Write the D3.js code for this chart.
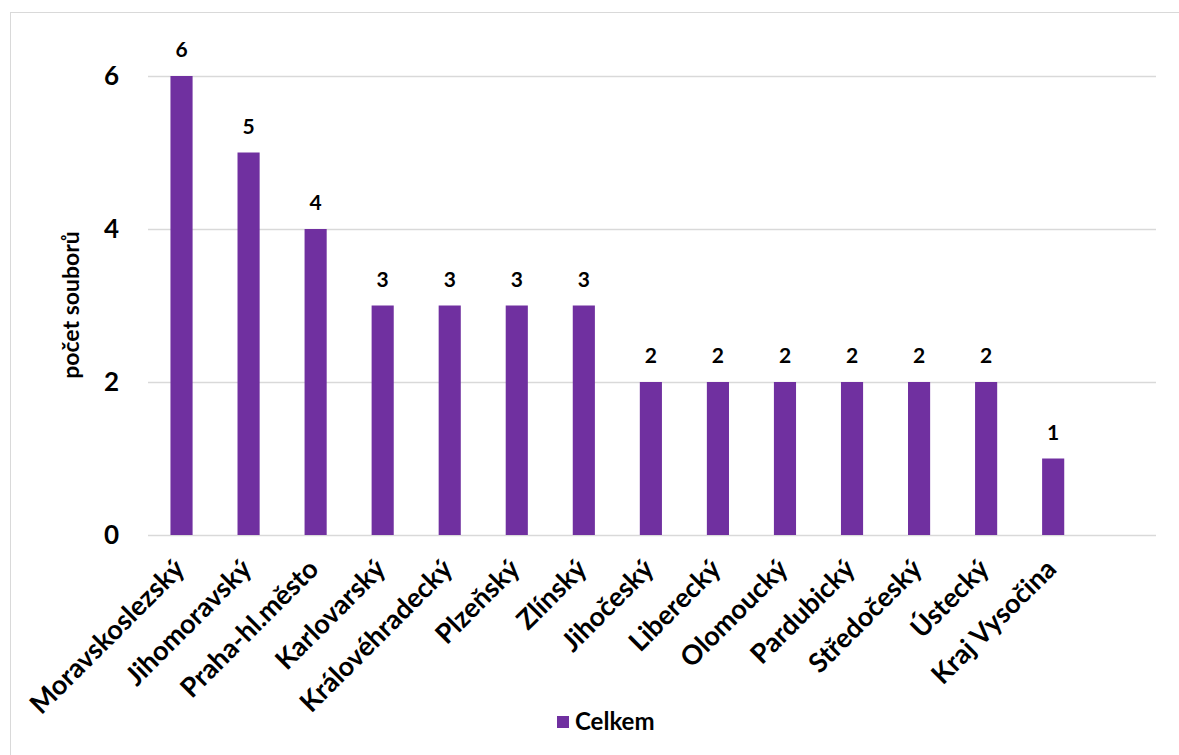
<!DOCTYPE html>
<html>
<head>
<meta charset="utf-8">
<script src="https://cdn.jsdelivr.net/npm/d3@7"></script>
<style>
  html, body { margin: 0; padding: 0; background: #fff; }
  svg { display: block; font-family: Lato, "Open Sans", sans-serif; font-weight: bold; }
</style>
</head>
<body>
<svg id="chart" width="1179" height="755"></svg>
<script>
const categories = ["Moravskoslezský", "Jihomoravský", "Praha-hl.město", "Karlovarský", "Královéhradecký", "Plzeňský", "Zlínský", "Jihočeský", "Liberecký", "Olomoucký", "Pardubický", "Středočeský", "Ústecký", "Kraj Vysočina"];
const values = [6, 5, 4, 3, 3, 3, 3, 2, 2, 2, 2, 2, 2, 1];
const yTicks = [0, 2, 4, 6];
const seriesName = "Celkem";
const yTitle = "počet souborů";

(function () {
const svg = d3.select("#chart");
const color = "#7030A0";

// chart area border
svg.append("rect").attr("x", 10.5).attr("y", 12.5).attr("width", 1300).attr("height", 900)
  .attr("fill", "none").attr("stroke", "#d9d9d9").attr("stroke-width", 1);

const plotLeft = 148, plotRight = 1156, plotTop = 76, plotBottom = 535;
const step = 67.05;
const x = d3.scaleBand().domain(categories).range([plotLeft, plotLeft + step * categories.length]).paddingInner(0.67).paddingOuter(0.335);
const y = d3.scaleLinear().domain([0, 6]).range([plotBottom, plotTop]);

// gridlines
svg.append("g").selectAll("line").data(yTicks).join("line")
  .attr("x1", plotLeft).attr("x2", plotRight)
  .attr("y1", d => Math.round(y(d)) + 0.5).attr("y2", d => Math.round(y(d)) + 0.5)
  .attr("stroke", "#d9d9d9").attr("stroke-width", 1.5);

// y axis tick labels
const yAxis = d3.axisLeft(y).tickValues(yTicks).tickFormat(d3.format("d")).tickSize(0).tickPadding(0);
const gy = svg.append("g").attr("transform", `translate(119,0)`).call(yAxis);
gy.select(".domain").remove();
gy.selectAll("text").attr("font-size", 26).attr("font-family", "Lato, sans-serif").attr("font-weight", "bold").attr("fill", "#000");

// y title
svg.append("text").attr("transform", `translate(79,305) rotate(-90)`)
  .attr("text-anchor", "middle").attr("font-size", 23).attr("fill", "#000").text(yTitle);

// bars
svg.append("g").selectAll("rect").data(values).join("rect")
  .attr("x", (d, i) => x(categories[i]))
  .attr("width", x.bandwidth())
  .attr("y", d => y(d))
  .attr("height", d => y(0) - y(d))
  .attr("fill", color);

// value labels
svg.append("g").selectAll("text").data(values).join("text")
  .attr("x", (d, i) => x(categories[i]) + x.bandwidth() / 2)
  .attr("y", d => y(d) - 19)
  .attr("text-anchor", "middle").attr("font-size", 21).attr("fill", "#000")
  .text(d => d);

// x axis labels
const xAxis = d3.axisBottom(x).tickSize(0).tickPadding(0);
const gx = svg.append("g").attr("transform", `translate(0,${plotBottom})`).call(xAxis);
gx.select(".domain").remove();
gx.selectAll("text")
  .attr("font-size", 27).attr("font-family", "Lato, sans-serif").attr("font-weight", "bold").attr("fill", "#000")
  .attr("text-anchor", "end")
  .attr("transform", "translate(-2,29) rotate(-45)")
  .attr("dy", "0.35em").attr("y", 0).attr("x", 0);

// legend
const lg = svg.append("g").attr("transform", "translate(557,716)");
lg.append("rect").attr("width", 12).attr("height", 12).attr("fill", color);
lg.append("text").attr("x", 18).attr("y", 6).attr("dy", "0.35em").attr("font-size", 24).attr("fill", "#000").text(seriesName);
})();
</script>
</body>
</html>
